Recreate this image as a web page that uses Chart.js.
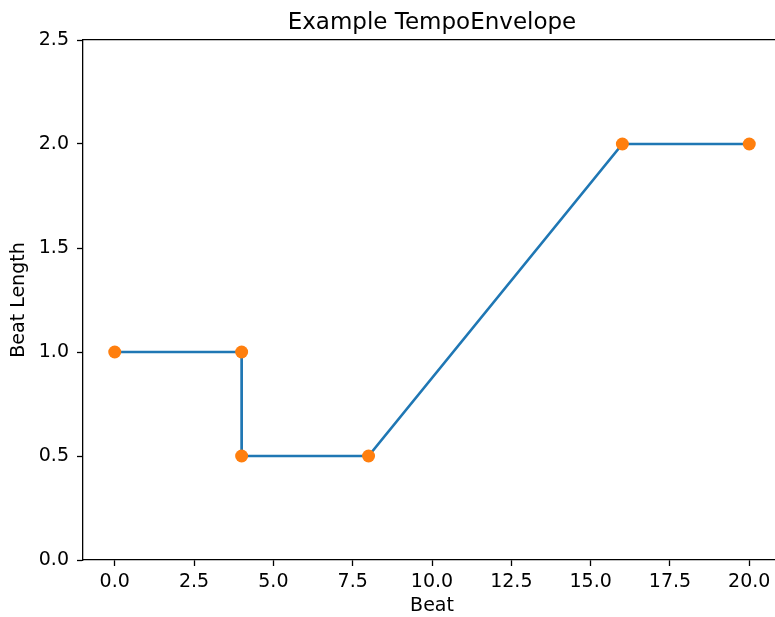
<!DOCTYPE html>
<html>
<head>
<meta charset="utf-8">
<script src="https://cdn.jsdelivr.net/npm/chart.js@4"></script>
<style>
  html, body { margin: 0; padding: 0; background: #fff; overflow: hidden; }
  #wrap { width: 781px; height: 617px; }
</style>
</head>
<body>
<div id="wrap"><canvas id="chart-tempo" width="781" height="617"></canvas></div>
<script>
const beats = [0, 4, 4, 8, 16, 20];
const beatLengths = [1, 1, 0.5, 0.5, 2, 2];
const xTicks = [0, 2.5, 5, 7.5, 10, 12.5, 15, 17.5, 20];
const yTicks = [0, 0.5, 1, 1.5, 2, 2.5];

const FONT = 'DejaVu Sans';
const points = beats.map((b, i) => ({ x: b, y: beatLengths[i] }));

const axisCommon = {
  border: { display: true, color: '#000', width: 1.3 },
  grid: { display: true, drawOnChartArea: false, drawTicks: true, tickLength: 6, tickWidth: 1.3, tickColor: '#000' },
};

new Chart(document.getElementById('chart-tempo'), {
  type: 'scatter',
  data: {
    datasets: [
      {
        label: 'points',
        data: points,
        showLine: false,
        pointRadius: 6.5,
        pointBorderWidth: 0,
        pointBackgroundColor: '#ff7f0e',
        order: 0,
      },
      {
        label: 'envelope',
        data: points,
        showLine: true,
        borderColor: '#1f77b4',
        borderWidth: 2.7,
        pointRadius: 0,
        tension: 0,
        order: 1,
      },
    ],
  },
  options: {
    responsive: false,
    animation: false,
    layout: { padding: 0, autoPadding: false },
    plugins: {
      legend: { display: false },
      tooltip: { enabled: false },
      title: {
        display: true,
        fullSize: false,
        text: 'Example TempoEnvelope',
        color: '#000',
        font: { family: FONT, size: 23, weight: 'normal' },
        padding: { top: 9, bottom: 3.4 },
      },
    },
    scales: {
      x: {
        ...axisCommon,
        type: 'linear',
        position: 'bottom',
        min: -1,
        max: 21,
        afterBuildTicks: s => { s.ticks = xTicks.map(v => ({ value: v })); },
        afterFit: s => { s.height = 57; },
        ticks: { color: '#000', font: { family: FONT, size: 19 }, padding: 5, maxRotation: 0, callback: v => v.toFixed(1) },
        title: { display: true, text: 'Beat', color: '#000', font: { family: FONT, size: 19 }, padding: { top: 0, bottom: 0 } },
      },
      x2: {
        type: 'linear',
        position: 'top',
        min: -1,
        max: 21,
        border: { display: true, color: '#000', width: 1.3 },
        grid: { display: true, drawOnChartArea: false, drawTicks: false },
        ticks: { display: false },
        afterBuildTicks: s => { s.ticks = []; },
        afterFit: s => { s.height = 0; },
      },
      y: {
        ...axisCommon,
        type: 'linear',
        position: 'left',
        min: 0,
        max: 2.5,
        afterBuildTicks: s => { s.ticks = yTicks.map(v => ({ value: v })); },
        afterFit: s => { s.width = 83; },
        ticks: { color: '#000', font: { family: FONT, size: 19 }, padding: 8, callback: v => v.toFixed(1) },
        title: { display: true, text: 'Beat Length', color: '#000', font: { family: FONT, size: 19 }, padding: { top: 8, bottom: 0 } },
      },
    },
  },
});
</script>
</body>
</html>
